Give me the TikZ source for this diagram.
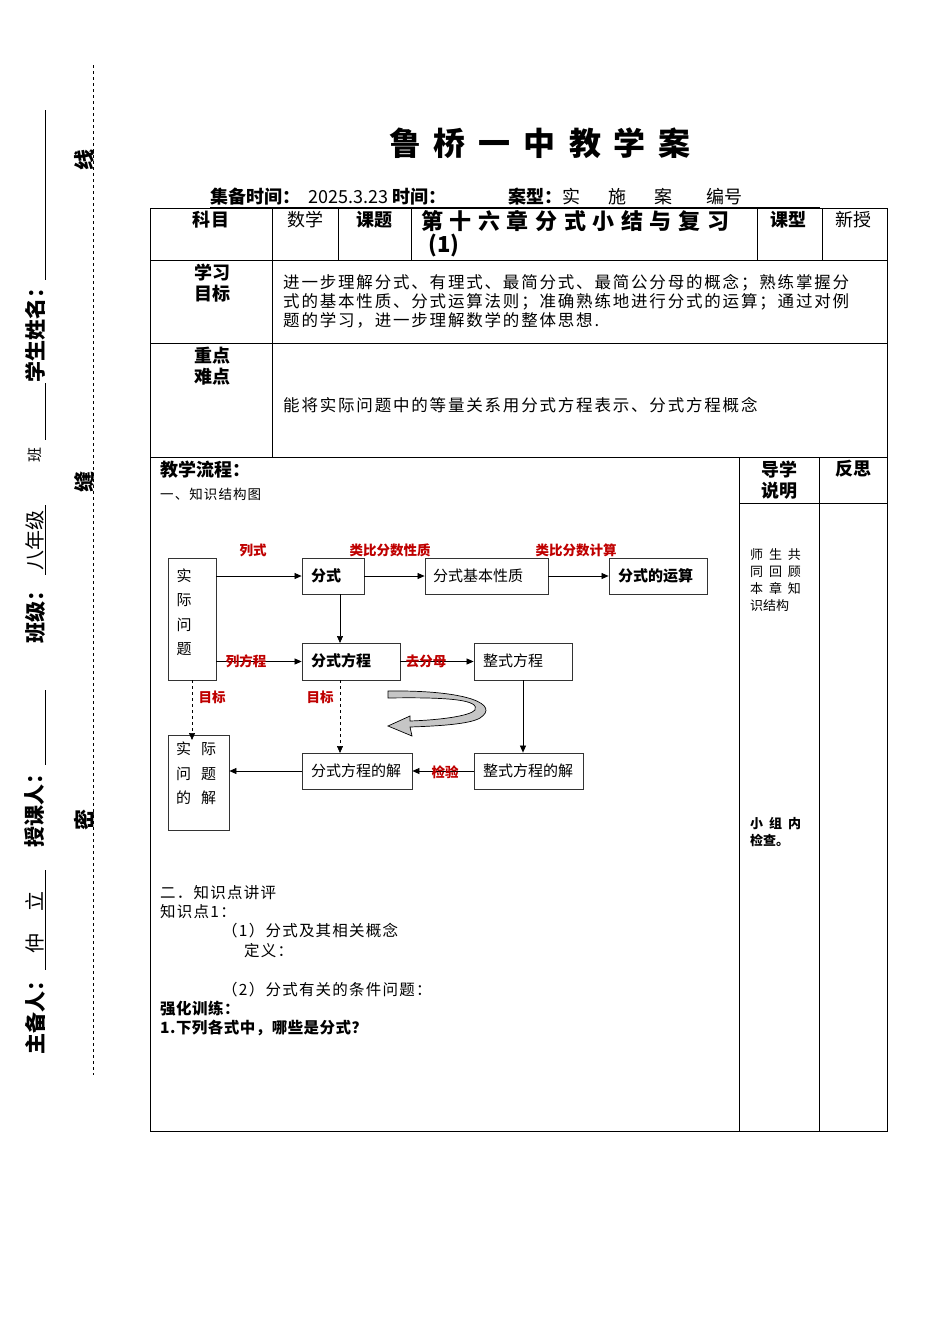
\documentclass[tikz,border=0pt]{standalone}
\usepackage{fontspec}
\setmainfont{Noto Sans CJK SC}
\usetikzlibrary{arrows.meta}
\newcommand{\lsp}[1]{\addfontfeature{LetterSpace=#1}}
\begin{document}
\begin{tikzpicture}[x=1pt,y=-1pt,
  tl/.style={draw=black,line width=0.6pt},
  bx/.style={draw=black!80,line width=0.8pt},
  lbl/.style={inner sep=0pt,anchor=west,font=\fontsize{15}{15}\selectfont},
  lblb/.style={inner sep=0pt,anchor=west,font=\bfseries\fontsize{15}{15}\selectfont},
  red/.style={inner sep=0pt,text=red!75!black,font=\bfseries\fontsize{13.5}{13.5}\selectfont},
  ar/.style={-{Triangle[length=7pt,width=6pt]},line width=0.7pt},
  side/.style={rotate=90,inner sep=0pt,font=\bfseries\fontsize{21}{21}\selectfont},
  bt/.style={inner sep=0pt,anchor=west,font=\fontsize{15.5}{15.5}\selectfont\lsp{8}},
  btb/.style={inner sep=0pt,anchor=west,font=\bfseries\fontsize{15.5}{15.5}\selectfont\lsp{3}}]
\useasboundingbox (0,0) rectangle (950,1344);
% title
\node[font=\bfseries\fontsize{32}{32}\selectfont] (title) at (540,143) {鲁\hspace{13pt}桥\hspace{13pt}一\hspace{13pt}中\hspace{13pt}教\hspace{13pt}学\hspace{13pt}案};
\node[inner sep=0pt,anchor=west,font=\fontsize{18}{18}\selectfont] (hdr) at (210,197)
 {\textbf{集备时间：}\ \ 2025.3.23\ \textbf{时间：}\hspace{62pt}\textbf{案型：}实\hspace{28pt}施\hspace{28pt}案\hspace{34pt}编号};
\draw[line width=0.7pt] (210,207.5) -- (820,207.5);
% table
\draw[tl] (150,208) rectangle (887,1131);
\draw[tl] (150,260) -- (887,260);
\draw[tl] (150,343) -- (887,343);
\draw[tl] (150,457) -- (887,457);
\foreach \x in {272,338,411,757,822} \draw[tl] (\x,208) -- (\x,260);
\draw[tl] (272,260) -- (272,457);
\draw[tl] (739,457) -- (739,1131);
\draw[tl] (819,457) -- (819,1131);
\draw[tl] (739,503) -- (887,503);
\node[font=\bfseries\fontsize{18}{18}\selectfont\lsp{10}] (c1) at (211,220) {科目};
\node[font=\fontsize{18}{18}\selectfont] (c2) at (305,220) {数学};
\node[font=\bfseries\fontsize{18}{18}\selectfont] (c3) at (374,220) {课题};
\node[font=\bfseries\fontsize{22}{22}\selectfont\lsp{30},anchor=west,inner sep=0pt] (c4) at (421,221) {第十六章分式小结与复习};
\node[font=\bfseries\fontsize{22}{22}\selectfont,anchor=west,inner sep=0pt] (c4b) at (428,246) {(1)};
\node[font=\bfseries\fontsize{18}{18}\selectfont] (c5) at (788,220) {课型};
\node[font=\fontsize{18}{18}\selectfont] (c6) at (853,220) {新授};
\node[font=\bfseries\fontsize{18}{21}\selectfont,align=center] (r2) at (212,283) {学习\\目标};
\node[inner sep=0pt,anchor=west,align=left,font=\fontsize{16.5}{19}\selectfont\lsp{11}] (r2t) at (283,301) {进一步理解分式、有理式、最简分式、最简公分母的概念；熟练掌握分\\式的基本性质、分式运算法则；准确熟练地进行分式的运算；通过对例\\题的学习，进一步理解数学的整体思想.};
\node[font=\bfseries\fontsize{18}{21}\selectfont,align=center] (r3) at (212,366) {重点\\难点};
\node[inner sep=0pt,anchor=west,font=\fontsize{16.5}{16.5}\selectfont\lsp{11}] (r3t) at (283,405) {能将实际问题中的等量关系用分式方程表示、分式方程概念};
\node[inner sep=0pt,anchor=west,font=\bfseries\fontsize{18}{18}\selectfont] (jx) at (160,470) {教学流程：};
\node[inner sep=0pt,anchor=west,font=\fontsize{13.5}{13.5}\selectfont\lsp{8}] (zs) at (160,494) {一、知识结构图};
\node[font=\bfseries\fontsize{18}{21}\selectfont,align=center] (dx) at (779,480) {导学\\说明};
\node[font=\bfseries\fontsize{18}{18}\selectfont] (fs) at (853,469) {反思};
\node[inner sep=0pt,anchor=north west,font=\fontsize{13}{17}\selectfont,align=left] (n1) at (750,548) {师\ \ 生\ \ 共\\同\ \ 回\ \ 顾\\本\ \ 章\ \ 知\\识结构};
\node[inner sep=0pt,anchor=north west,font=\bfseries\fontsize{13}{17}\selectfont,align=left] (n2) at (750,817) {小\ \ 组\ \ 内\\检查。};
% diagram
\node[bx,minimum width=48pt,minimum height=122pt,inner sep=0pt] (sj) at (192,619) {};
\node[inner sep=0pt,font=\fontsize{15}{24.5}\selectfont,align=center] at (184,612) {实\\际\\问\\题};
\node[bx,minimum width=62pt,minimum height=36pt,inner sep=0pt] (fsh) at (333,576) {};
\node[lblb] at (311,576) {分式};
\node[bx,minimum width=123pt,minimum height=36pt,inner sep=0pt] (xz) at (486.5,576) {};
\node[lbl] at (433,576) {分式基本性质};
\node[bx,minimum width=98pt,minimum height=36pt,inner sep=0pt] (ys) at (658,576) {};
\node[lblb] at (618,576) {分式的运算};
\node[bx,minimum width=98pt,minimum height=37pt,inner sep=0pt] (fc) at (351,661.5) {};
\node[lblb] at (311,661) {分式方程};
\node[bx,minimum width=98pt,minimum height=37pt,inner sep=0pt] (zc) at (523,661.5) {};
\node[lbl] at (483,661) {整式方程};
\node[bx,minimum width=61pt,minimum height=95pt,inner sep=0pt] (sjj) at (198.5,782.5) {};
\node[inner sep=0pt,font=\fontsize{15}{24.5}\selectfont,align=left,anchor=north west] at (176,742) {实\hspace{10pt}际\\问\hspace{10pt}题\\的\hspace{10pt}解};
\node[bx,minimum width=110pt,minimum height=36pt,inner sep=0pt] (fcj) at (357,771) {};
\node[lbl] at (311,771) {分式方程的解};
\node[bx,minimum width=109pt,minimum height=36pt,inner sep=0pt] (zcj) at (528.5,771) {};
\node[lbl] at (483,771) {整式方程的解};
\draw[ar] (sj.east |- fsh) -- (fsh.west);
\draw[ar] (fsh) -- (xz);
\draw[ar] (xz) -- (ys);
\draw[ar] (sj.east |- fc) -- (fc.west);
\draw[ar] (340,594) -- (340,643);
\draw[ar] (fc) -- (zc);
\draw[ar] (zc.south) -- (zc.south |- zcj.north);
\draw[ar] (zcj) -- (fcj);
\draw[ar] (fcj.west) -- (sjj.east |- fcj);
\draw[ar,dashed] (192,680) -- (192,740);
\draw[ar,dashed] (340,680) -- (340,753);
\node[red] (l1) at (253,550) {列式};
\node[red] (l2) at (390,550) {类比分数性质};
\node[red] (l3) at (576,550) {类比分数计算};
\node[red] (l4) at (246,661) {列方程};
\node[red] (l5) at (426,661) {去分母};
\node[red] (l6) at (212,697) {目标};
\node[red] (l7) at (320,697) {目标};
\node[red] (l8) at (445,772) {检验};
% curved arrow
\draw[line width=0.7pt,fill=gray!45] (388,691) .. controls (470,690) and (500,705) .. (480,718)
  .. controls (470,724) and (440,726) .. (410,727) -- (412,736) -- (388,726) -- (410,716) -- (410,721)
  .. controls (440,720) and (470,716) .. (475,710) .. controls (480,700) and (450,697) .. (388,698) -- cycle;
% bottom texts
\node[bt] (b1) at (160,893) {二．知识点讲评};
\node[bt] (b2) at (160,912) {知识点1：};
\node[bt] (b3) at (222,931) {（1）分式及其相关概念};
\node[bt] (b4) at (244,951) {定义：};
\node[bt] (b5) at (222,990) {（2）分式有关的条件问题：};
\node[btb] (b6) at (160,1009) {强化训练：};
\node[btb] (b7) at (160,1028) {1.下列各式中，哪些是分式？};
% side binding
\draw[dashed,line width=0.6pt] (93,65) -- (93,1075);
\node[side] (s1) at (35,1012) {主备人：};
\node[side,font=\fontsize{20}{20}\selectfont] (s2) at (35,922) {仲\hspace{22pt}立};
\node[side] (s3) at (35,805) {授课人：};
\node[side] (s4) at (35,612) {班级：};
\node[side,font=\fontsize{20}{20}\selectfont] (s5) at (35,540) {八年级};
\node[side,font=\fontsize{15}{15}\selectfont] (s6) at (35,455) {班};
\node[side] (s7) at (35,330) {学生姓名：};
\draw[line width=0.8pt] (45,870) -- (45,970);
\draw[line width=0.8pt] (45,690) -- (45,765);
\draw[line width=0.8pt] (45,505) -- (45,575);
\draw[line width=0.8pt] (45,383) -- (45,440);
\draw[line width=0.8pt] (45,110) -- (45,280);
\node[side] (k1) at (84,160) {线};
\node[side] (k2) at (84,482) {缝};
\node[side] (k3) at (84,820) {密};
\end{tikzpicture}
\end{document}
